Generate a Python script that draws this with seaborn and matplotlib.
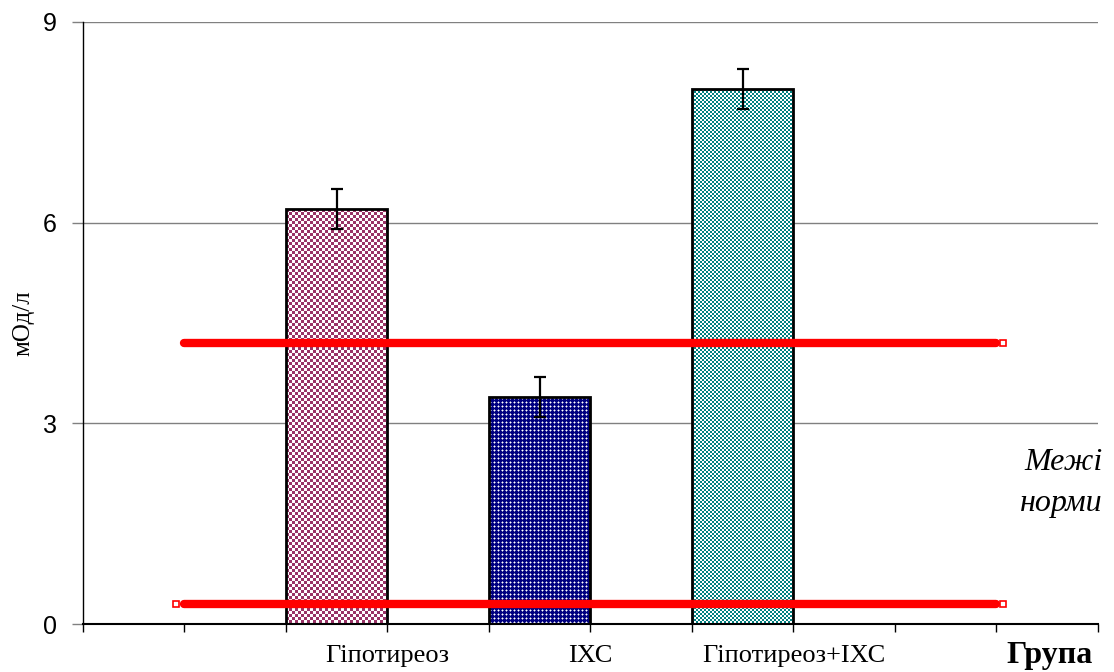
# Bar chart with norm limits

import numpy as np
import pandas as pd
import matplotlib
matplotlib.use("Agg")
import matplotlib.pyplot as plt
import seaborn as sns
from matplotlib.colors import to_rgb

# data
groups = ["Гіпотиреоз", "ІХС", "Гіпотиреоз+ІХС"]
means = [6.2, 3.4, 8.0]
sem = [0.3, 0.3, 0.3]
norm_low = 0.3
norm_high = 4.2
y_ticks = [0, 3, 6, 9]

sns.set_style("white")
plt.rcParams["font.family"] = ["Liberation Sans", "DejaVu Sans"]
plt.rcParams["text.color"] = "black"
plt.rcParams["axes.labelcolor"] = "black"
plt.rcParams["xtick.color"] = "black"
plt.rcParams["ytick.color"] = "black"
serif = ["Liberation Serif", "DejaVu Serif"]

fig = plt.figure(figsize=(11.14, 6.72), dpi=100)
ax = fig.add_axes([0.0745, 0.0714, 0.9111, 0.8959])

df = pd.DataFrame({"group": groups, "mean": means})
sns.barplot(data=df, x="group", y="mean", width=0.5, errorbar=None, ax=ax,
            color="white", edgecolor="black", linewidth=2, zorder=2)
ax.set_xlim(-1.25, 3.75)
ax.set_ylim(0, 9)

# checkered fill patterns (Excel style)
W = "#ffffff"
M = "#993366"
N, NL = "#000080", "#8080c0"
T = "#008080"
patterns = [
    [[M, M, M, W, W, W],
     [M, M, M, W, W, W],
     [M, M, M, W, W, W],
     [W, W, W, M, M, M],
     [W, W, W, M, M, M],
     [W, W, W, M, M, M]],
    [[N, NL, N, N],
     [NL, W, NL, N],
     [N, NL, N, N],
     [N, N, N, N]],
    [[T, T, W, W],
     [T, T, W, W],
     [W, W, T, T],
     [W, W, T, T]],
]

bars = ax.patches[:len(groups)]
inv = ax.transData.inverted()
for bar, pat in zip(bars, patterns):
    bar.set_facecolor("none")
    x0, w, h = bar.get_x(), bar.get_width(), bar.get_height()
    p0 = np.round(ax.transData.transform((x0, 0)))
    p1 = np.round(ax.transData.transform((x0 + w, h)))
    npx, npy = int(p1[0] - p0[0]), int(p1[1] - p0[1])
    d0 = inv.transform(p0)
    d1 = inv.transform(p1)
    t = np.array([[to_rgb(c) for c in row] for row in pat])
    reps = (npy // t.shape[0] + 1, npx // t.shape[1] + 1, 1)
    img = np.tile(t, reps)[:npy, :npx]
    im = ax.imshow(img, extent=[d0[0], d1[0], d0[1], d1[1]], aspect="auto",
                   interpolation="nearest", zorder=1)
    im.set_clip_path(bar)

centers = [b.get_x() + b.get_width() / 2 for b in bars]
ax.errorbar(centers, means, yerr=sem, fmt="none", ecolor="black",
            elinewidth=1.6, capsize=4.5, capthick=1.6, zorder=3)

# norm limits
for lvl in [norm_low, norm_high]:
    ax.plot([-0.75, 3.25], [lvl, lvl], color="red", lw=6,
            solid_capstyle="round", zorder=4)
    ax.plot([3.28], [lvl], marker="s", ms=5, mfc="white", mec="red",
            mew=1.2, zorder=5)
ax.plot([-0.79], [norm_low], marker="s", ms=5, mfc="white", mec="red",
        mew=1.2, zorder=5)

ax.set_xlim(-1.25, 3.75)
ax.set_ylim(0, 9)

# axes
ticks = np.arange(-1.25, 3.76, 0.5)
right_edges = [round(b.get_x() + b.get_width(), 2) for b in bars]
labels = []
for tk in ticks:
    lab = ""
    for g, r in zip(groups, right_edges):
        if abs(tk - r) < 1e-6:
            lab = g
    labels.append(lab)
ax.set_xticks(ticks)
ax.set_xticklabels(labels, family=serif, fontsize=19)
ax.set_xlabel("")
ax.set_yticks(y_ticks)
ax.tick_params(axis="y", left=True, length=8, width=1, color="#808080",
               labelsize=18, pad=11, labelcolor="black")
ax.tick_params(axis="x", bottom=True, length=6, width=1, color="black", pad=9,
               labelcolor="black")
ax.yaxis.grid(True, color="#808080", lw=1)
ax.set_axisbelow(True)
for s in ["top", "right"]:
    ax.spines[s].set_visible(False)
ax.spines["left"].set_color("black")
ax.spines["left"].set_linewidth(1)
ax.spines["bottom"].set_color("black")
ax.spines["bottom"].set_linewidth(1.5)

ax.set_ylabel("мОд/л", family=serif, fontsize=18, labelpad=6, color="black")

fig.text(1093 / 1114, 1 - 655 / 672, "Група", family=serif, fontsize=23,
         fontweight="bold", ha="right", va="center", color="black")
fig.text(1103 / 1114, 1 - 463 / 672, "Межі", family=serif, fontsize=23,
         style="italic", ha="right", va="center", color="black")
fig.text(1103 / 1114, 1 - 503 / 672, "норми", family=serif, fontsize=23,
         style="italic", ha="right", va="center", color="black")

fig.savefig("out.png", dpi=100)
